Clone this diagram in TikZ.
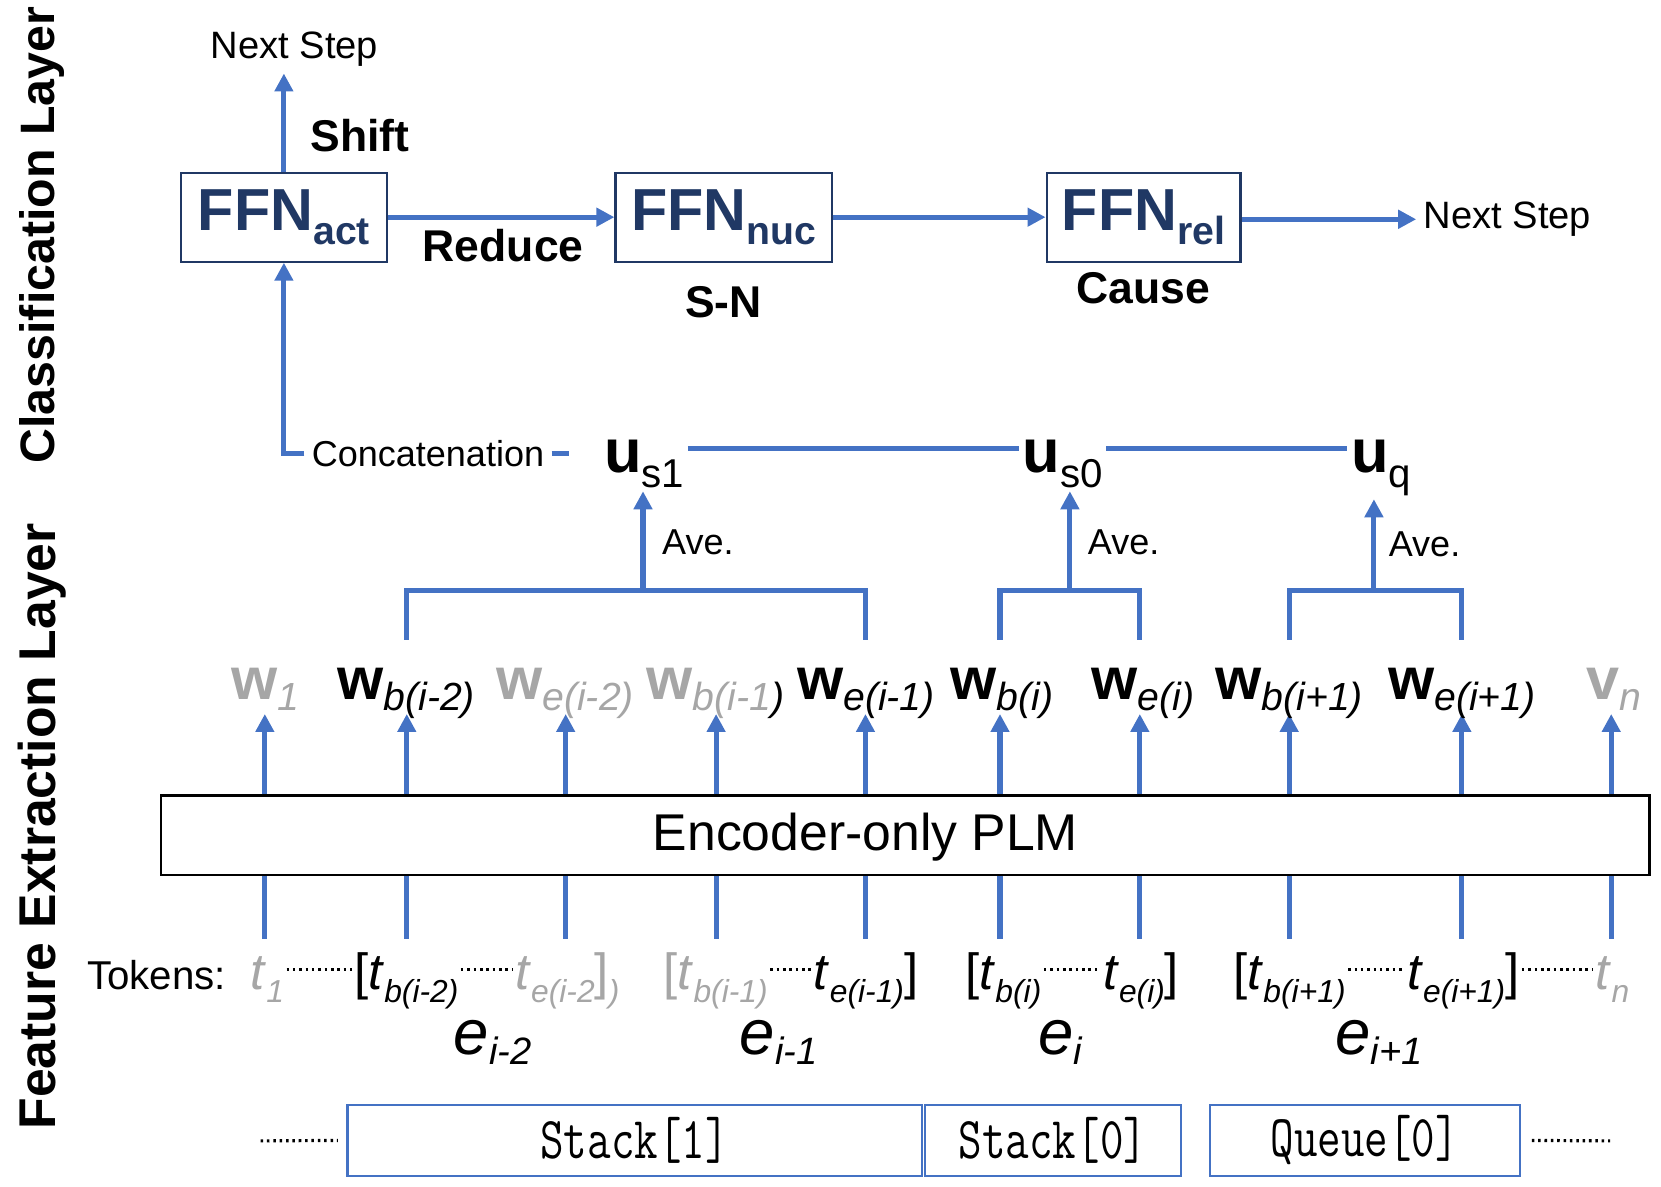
\documentclass[tikz,border=0pt]{standalone}
\usepackage{fontspec}
\usepackage{graphicx}
\setmainfont{Liberation Sans}
\usetikzlibrary{arrows.meta,positioning}
\definecolor{lineblue}{HTML}{4472C4}
\definecolor{navy}{HTML}{203864}
\definecolor{lgray}{HTML}{A6A6A6}
\newcommand{\fsz}[1]{\fontsize{#1}{#1}\selectfont}
\newcommand{\ffnsub}[1]{FFN\raisebox{-6.5pt}{\fsz{18.5}#1}}
\newcommand{\wsub}[1]{\raisebox{-5.5pt}{\fsz{18.5}\mdseries\itshape #1}}
\newcommand{\tsub}[1]{\raisebox{-6pt}{\fsz{15}\itshape #1}}
\newcommand{\usub}[1]{\raisebox{-7pt}{\fsz{19}\mdseries #1}}
\newcommand{\esub}[1]{\raisebox{-5pt}{\fsz{18}\itshape #1}}
\newcommand{\stk}[1]{\scalebox{0.77}[1]{\fsz{28}\ttfamily #1}}
\begin{document}
\begin{tikzpicture}[x=0.5pt, y=-0.5pt]

\tikzstyle{link}=[draw=lineblue, line width=2.4pt]
\tikzstyle{arr}=[link, -{Triangle[width=8.5pt,length=8.5pt]}]
\tikzstyle{ffn}=[draw=navy, line width=1pt, text=navy, font=\fsz{28}\bfseries, minimum height=42pt, inner sep=0pt]
\tikzstyle{act}=[font=\fsz{21}\bfseries]
\tikzstyle{note}=[font=\fsz{18}]
\tikzstyle{layer}=[rotate=90, font=\bfseries]
\tikzstyle{unode}=[anchor=base west, inner sep=1.5pt, font=\fsz{29}]
\tikzstyle{wnode}=[anchor=base west, inner sep=0pt, font=\fsz{28}]
\tikzstyle{tok}=[anchor=base west, inner xsep=1pt, inner ysep=0pt, font=\fsz{24}, text height=20pt, text depth=1pt]
\tikzstyle{enode}=[anchor=base, font=\fsz{30}\itshape]
\tikzstyle{dotrow}=[draw, line width=1.5pt, dash pattern=on 1.2pt off 1.8pt]
\tikzstyle{slot}=[draw=lineblue, line width=1pt, minimum height=33.5pt]

\useasboundingbox (0,0) rectangle (1568,1120);

\node[layer, font=\fsz{22.8}\bfseries] (cls) at (40,222) {Classification Layer};
\node[layer, font=\fsz{24.4}\bfseries] (fel) at (40,780) {Feature Extraction Layer};

% classification layer
\node[ffn, minimum width=97pt] (act) at (268,205) {\ffnsub{act}};
\node[ffn, minimum width=102pt] (nuc) at (683,205) {\ffnsub{nuc}};
\node[ffn, minimum width=91.5pt] (rel) at (1079.5,205) {\ffnsub{rel}};
\node[note] (nstop) at (278,46) {Next Step};
\node[note] (nsright) at (1423,207) {Next Step};
\node[act] (shift) at (340,128) {Shift};
\node[act] (reduce) at (475,232) {Reduce};
\node[act, below=7.5pt of nuc] (sn) {S-N};
\node[act, below=1pt of rel] (cause) {Cause};

\draw[arr] (act.north) -- (act.north |- nstop.south);
\draw[arr] (act) -- (nuc);
\draw[arr] (nuc) -- (rel);
\draw[arr] (rel.east |- nsright.west) -- (nsright.west);

\node[note, font=\fsz{17}] (conc) at (404,428) {Concatenation};
\node[unode] (us1) at (567,446) {\textbf{u}\usub{s1}};
\node[unode] (us0) at (962,446) {\textbf{u}\usub{s0}};
\node[unode] (uq) at (1272,446) {\textbf{u}\usub{q}};

\draw[arr] (conc.west) -| (act.south);
\draw[link, shorten >=15pt] (conc.east) -- (conc.east -| us1.west);
\draw[link] ([yshift=8.5pt]us1.mid east) -- ([yshift=8.5pt]us0.mid west);
\draw[link] ([yshift=8.5pt]us0.mid east) -- ([yshift=8.5pt]uq.mid west);

% feature extraction layer
\node[draw, line width=1.2pt, minimum width=702.5pt, minimum height=37.5pt] (plm) at (854.5,788.5) {};
\node[font=\fsz{24.4}] (plmtext) at (817,790) {Encoder-only PLM};

\foreach \x [count=\n] in {250,384,534,676,817,944,1076,1217,1380,1521} {
  \coordinate (top\n) at (\x,674);
  \coordinate (bot\n) at (\x,886);
  \coordinate (foot\n) at (\x,604);
  \draw[arr] (plm.north -| top\n) -- (top\n);
  \draw[link] (bot\n) -- (plm.south -| bot\n);
}

\coordinate (av1) at (607,557);
\coordinate (av0) at (1010,557);
\coordinate (avq) at (1297,557);
\draw[link] (foot2) |- (av1) -| (foot5);
\draw[link] (foot6) |- (av0) -| (foot7);
\draw[link] (foot8) |- (avq) -| (foot9);
\draw[arr] (av1) -- (av1 |- us1.south);
\draw[arr] (av0) -- (av0 |- us0.south);
\draw[arr] (avq) -- (avq |- uq.south);
\node[note, font=\fsz{17}, anchor=west] (ave1) at (618,512) {Ave.};
\node[note, font=\fsz{17}, anchor=west] (ave0) at (1020,512) {Ave.};
\node[note, font=\fsz{17}, anchor=west] (aveq) at (1304,514) {Ave.};

\node[wnode] (w1) at (218,660) {\textcolor{lgray}{\textbf{w}\wsub{1}}};
\node[wnode] (wb2) at (318,660) {\textbf{w}\wsub{b(i-2)}};
\node[wnode] (we2) at (468,660) {\textcolor{lgray}{\textbf{w}\wsub{e(i-2)}}};
\node[wnode] (wb1) at (610,660) {\textcolor{lgray}{\textbf{w}\wsub{b(i-1}}\wsub{)}};
\node[wnode] (we1) at (752,660) {\textbf{w}\wsub{e(i-1)}};
\node[wnode] (wb0) at (897,660) {\textbf{w}\wsub{b(i)}};
\node[wnode] (we0) at (1030,660) {\textbf{w}\wsub{e(i)}};
\node[wnode] (wbn) at (1147,660) {\textbf{w}\wsub{b(i+1)}};
\node[wnode] (wen) at (1310,660) {\textbf{w}\wsub{e(i+1)}};
\node[wnode] (vn) at (1497,660) {\textcolor{lgray}{\textbf{v}\wsub{n}}};

\node[tok, font=\fsz{19}] (tokens) at (80,934) {Tokens:};
\node[tok, text=lgray] (t1) at (234,934) {\textit{t}\tsub{1}};
\node[tok] (tb2) at (332,934) {[\textit{t}\tsub{b(i-2)}};
\node[tok, text=lgray] (te2) at (484,934) {\textit{t}\tsub{e(i-2}]\tsub{)}};
\node[tok, text=lgray] (tb1) at (624,934) {[\textit{t}\tsub{b(i-1)}};
\node[tok] (te1) at (766,934) {\textit{t}\tsub{e(i-1)}]};
\node[tok] (tb0) at (909,934) {[\textit{t}\tsub{b(i)}};
\node[tok] (te0) at (1039,934) {\textit{t}\tsub{e(i)}]};
\node[tok] (tbn) at (1162,934) {[\textit{t}\tsub{b(i+1)}};
\node[tok] (ten) at (1326,934) {\textit{t}\tsub{e(i+1)}]};
\node[tok, text=lgray] (tn) at (1504,934) {\textit{t}\tsub{n}};
\draw[dotrow] (t1) -- (tb2);
\draw[dotrow] (tb2) -- (te2);
\draw[dotrow] (tb1) -- (te1);
\draw[dotrow] (tb0) -- (te0);
\draw[dotrow] (tbn) -- (ten);
\draw[dotrow] (ten) -- (tn);

\node[enode] (ei2) at (465,995) {e\esub{i-2}};
\node[enode] (ei1) at (735,995) {e\esub{i-1}};
\node[enode] (ei0) at (1001,995) {e\esub{i}};
\node[enode] (ein) at (1302,995) {e\esub{i+1}};

\node[slot, minimum width=271pt] (stk1) at (599,1076.5) {\stk{Stack[1]}};
\node[slot, minimum width=121pt] (stk0) at (994,1076.5) {\stk{Stack[0]}};
\node[slot, minimum width=146.5pt] (que) at (1288.5,1076.5) {\stk{Queue[0]}};
\coordinate (ldots) at (246,1077);
\coordinate (rdots) at (1520,1077);
\draw[dotrow, shorten >=4pt] (ldots) -- (stk1.west);
\draw[dotrow, shorten <=5pt] (que.east) -- (rdots);

\end{tikzpicture}
\end{document}
